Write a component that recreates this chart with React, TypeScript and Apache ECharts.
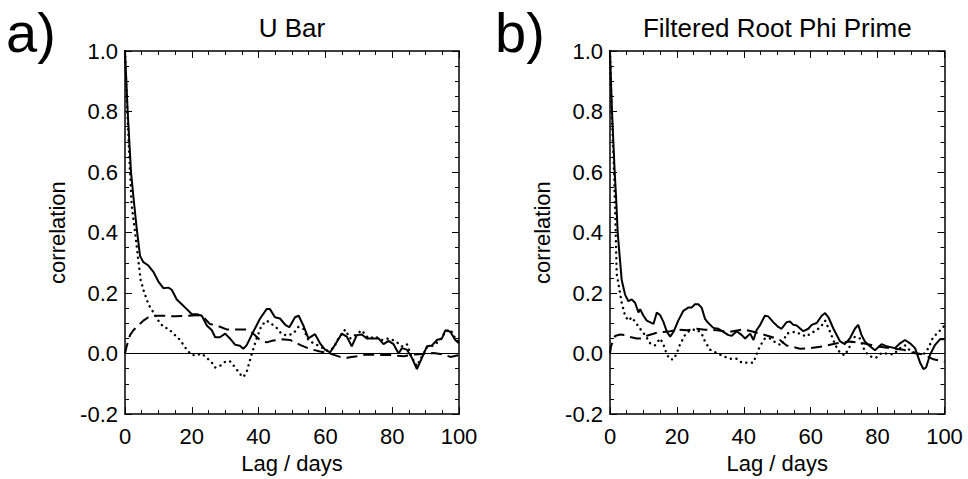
import React, { useEffect, useRef } from "react";
import * as echarts from "echarts";

// Panel a) "U Bar"  — [lag (days), correlation]
const aSolid: [number, number][] = [
  [0, 1.0], [0.8, 0.8], [1.8, 0.6], [2.5, 0.52], [3.5, 0.414], [4.5, 0.323], [5.5, 0.302], [7, 0.291],
  [8.5, 0.27], [10, 0.238], [11.5, 0.216], [13, 0.218], [14, 0.211], [15.5, 0.179], [17, 0.163],
  [18.5, 0.147], [20, 0.13], [21.5, 0.13], [23, 0.125], [24.5, 0.093], [26, 0.077], [27, 0.054],
  [28.4, 0.054], [30, 0.066], [31.4, 0.05], [33, 0.029], [34.4, 0.026], [35.4, 0.016], [36.4, 0.027],
  [38.4, 0.072], [40.4, 0.115], [42.4, 0.147], [43.4, 0.147], [44.9, 0.12], [46.4, 0.116], [48, 0.095],
  [49.2, 0.087], [50.9, 0.12], [52, 0.125], [53.4, 0.093], [54.9, 0.05], [56.9, 0.064], [58.4, 0.034],
  [59.9, 0.013], [61.4, 0.004], [62.9, 0.029], [64.9, 0.066], [66.4, 0.056], [67.9, 0.024], [69.4, 0.061],
  [70.9, 0.063], [72.4, 0.05], [73.9, 0.05], [75.9, 0.05], [77.4, 0.031], [78.9, 0.042], [80.4, 0.031],
  [81.9, 0.0], [82.9, 0.018], [84.4, 0.013], [85.9, -0.014], [87.4, -0.051], [88.9, -0.014], [90.4, 0.024],
  [91.9, 0.027], [93.4, 0.045], [94.9, 0.05], [95.9, 0.077], [97.4, 0.072], [98.9, 0.045], [100, 0.034],
];
const aDash: [number, number][] = [
  [0, 0.0], [0.5, 0.024], [1.5, 0.061], [2.5, 0.077], [4, 0.093], [5.5, 0.109], [7, 0.12], [9, 0.125],
  [12, 0.125], [15, 0.123], [18.5, 0.125], [21.5, 0.127], [23.5, 0.12], [25.4, 0.098], [27.4, 0.093],
  [30.4, 0.08], [34.4, 0.08], [36.4, 0.08], [38.4, 0.066], [40.4, 0.045], [42.4, 0.037], [44.4, 0.043],
  [47, 0.047], [49.4, 0.045], [52.4, 0.029], [55.4, 0.015], [58.4, 0.007], [61.4, 0.0], [64.4, -0.011],
  [66.4, -0.014], [69.4, -0.009], [72.4, -0.003], [76.4, -0.005], [79.4, -0.005], [83.4, -0.009],
  [86.4, -0.003], [89.4, -0.001], [92.4, 0.002], [95.4, -0.003], [97.4, -0.011], [100, -0.005],
];
const aDot: [number, number][] = [
  [0, 1.0], [0.7, 0.8], [1.4, 0.62], [2, 0.49], [3, 0.403], [4, 0.307], [4.7, 0.243], [5.5, 0.211],
  [7, 0.163], [8.5, 0.136], [10, 0.109], [11.5, 0.088], [13, 0.082], [14.5, 0.066], [16.5, 0.045],
  [18.5, 0.013], [20, -0.005], [21.5, -0.005], [23, 0.0], [24.5, -0.014], [26, -0.03], [27, -0.046],
  [28.4, -0.041], [30, -0.027], [31.4, -0.025], [33, -0.046], [34.4, -0.067], [35.4, -0.078],
  [36.4, -0.062], [37.9, -0.003], [39.4, 0.05], [40.9, 0.093], [42.4, 0.109], [43.9, 0.098],
  [45.4, 0.085], [46.9, 0.065], [48.4, 0.06], [50.4, 0.066], [51.9, 0.088], [53.4, 0.082], [54.9, 0.045],
  [56.4, 0.034], [58.4, 0.024], [60.4, 0.01], [62.4, 0.018], [63.9, 0.05], [65.9, 0.079], [67.4, 0.05],
  [68.9, 0.061], [70.9, 0.077], [72.9, 0.05], [74.9, 0.056], [76.9, 0.045], [78.9, 0.05], [80.9, 0.042],
  [82.9, 0.024], [84.4, 0.031], [85.9, -0.014], [87.4, -0.041], [88.9, -0.009], [90.4, 0.02], [92.4, 0.027],
  [94.4, 0.045], [95.9, 0.072], [97.4, 0.08], [98.9, 0.05], [100, 0.037],
];

// Panel b) "Filtered Root Phi Prime"
const bSolid: [number, number][] = [
  [0, 1.0], [0.6, 0.8], [1.4, 0.6], [1.8, 0.521], [2.3, 0.4], [3, 0.307], [3.5, 0.243], [4.5, 0.195],
  [5.5, 0.173], [6.5, 0.179], [7.5, 0.168], [8.5, 0.136], [9, 0.147], [10, 0.125], [11, 0.109], [13, 0.098],
  [14, 0.136], [15, 0.127], [16, 0.104], [17, 0.072], [18, 0.056], [19, 0.072], [20.4, 0.109], [21.9, 0.141],
  [23.4, 0.152], [24.4, 0.152], [25.4, 0.163], [26.4, 0.163], [27.4, 0.152], [28.4, 0.115], [29.4, 0.101],
  [30.9, 0.085], [32.4, 0.082], [33.9, 0.072], [35.4, 0.061], [36.4, 0.059], [37.9, 0.074], [39.4, 0.061],
  [40.4, 0.05], [41.9, 0.066], [42.9, 0.045], [43.8, 0.077], [44.8, 0.093], [46.3, 0.125], [47.3, 0.123],
  [48.8, 0.104], [50.3, 0.088], [51.3, 0.082], [52.8, 0.104], [53.8, 0.106], [54.8, 0.095], [55.8, 0.093],
  [57.8, 0.074], [59.3, 0.082], [60.3, 0.095], [61.8, 0.101], [63.3, 0.125], [64.3, 0.134], [65.3, 0.12],
  [66.8, 0.082], [68.8, 0.04], [70.2, 0.031], [71.7, 0.05], [73.2, 0.082], [74.2, 0.095], [75.2, 0.061],
  [76.2, 0.04], [77.7, 0.024], [79.2, 0.011], [81.2, 0.031], [82.7, 0.024], [85.2, 0.018], [86.7, 0.034],
  [88.2, 0.045], [89.7, 0.034], [91.2, 0.018], [92.7, -0.03], [93.7, -0.051], [94.5, -0.046], [95.7, -0.003],
  [97.2, 0.029], [98.7, 0.048], [100, 0.047],
];
const bDash: [number, number][] = [
  [0, 0.0], [0.3, 0.024], [1.5, 0.058], [3, 0.063], [4.5, 0.061], [6, 0.055], [8, 0.05], [9.5, 0.05],
  [11, 0.059], [14.4, 0.07], [18, 0.074], [20.4, 0.079], [22.9, 0.077], [25.9, 0.082], [28.4, 0.079],
  [31.9, 0.077], [35.9, 0.072], [39.9, 0.08], [42.9, 0.072], [45.8, 0.063], [48.3, 0.055], [50.8, 0.045],
  [52.8, 0.027], [56.8, 0.016], [59.8, 0.018], [63.8, 0.024], [67.8, 0.034], [71.7, 0.04], [75.7, 0.034],
  [79.7, 0.024], [83.7, 0.018], [87.7, 0.013], [90.7, 0.002], [93.7, -0.003], [96.7, -0.019], [100, -0.027],
];
const bDot: [number, number][] = [
  [0, 1.0], [0.5, 0.8], [1.2, 0.6], [1.6, 0.45], [2, 0.264], [3, 0.2], [3.5, 0.168], [4.5, 0.125],
  [5.5, 0.109], [6.5, 0.12], [8, 0.098], [9, 0.082], [10.5, 0.061], [12, 0.034], [13.4, 0.027], [15, 0.05],
  [16, 0.029], [17, -0.003], [18, -0.019], [19, -0.019], [20, 0.002], [20.9, 0.029], [22.4, 0.061],
  [23.9, 0.077], [25.9, 0.08], [27.4, 0.066], [28.4, 0.04], [29.9, 0.013], [31.9, 0.002], [33.9, -0.009],
  [35.9, -0.017], [37.9, -0.017], [39.4, -0.03], [40.9, -0.03], [42.9, -0.03], [43.8, -0.003], [44.8, 0.024],
  [46.3, 0.05], [47.8, 0.05], [49.8, 0.034], [51.3, 0.027], [52.8, 0.066], [55.3, 0.072], [57.3, 0.063],
  [58.8, 0.056], [59.8, 0.066], [61.8, 0.077], [63.3, 0.093], [64.3, 0.109], [65.8, 0.072], [67.3, 0.029],
  [68.8, 0.002], [70.2, -0.006], [71.7, 0.024], [73.2, 0.056], [74.7, 0.05], [76.2, 0.007], [77.7, -0.009],
  [79.5, -0.014], [81.2, 0.002], [83.2, -0.001], [84.7, -0.003], [86.7, 0.018], [88.2, 0.027], [89.7, 0.01],
  [91.7, 0.0], [93.7, -0.003], [95.2, 0.018], [96.5, 0.052], [97.7, 0.066], [99.2, 0.082], [100, 0.093],
];

const panelTitles = ["U Bar", "Filtered Root Phi Prime"];
const panelLetters = ["a)", "b)"];
const xName = "Lag / days";
const yName = "correlation";
const xRange = [0, 100, 20];
const yRange = [-0.2, 1.0, 0.2];

const FONT = "'Liberation Sans', Arial, Helvetica, sans-serif";
const GRIDS = [
  { left: 125, top: 51, width: 334, height: 373.5 },
  { left: 610, top: 51, width: 334.5, height: 373.5 },
];
const LETTER_X = [6, 495];

export default function App() {
  const ref = useRef<HTMLDivElement>(null);
  useEffect(() => {
    if (!ref.current) return;
    const chart = echarts.init(ref.current, null, { renderer: "svg" });
    const lineAx = { show: true, onZero: false, lineStyle: { color: "#000", width: 1.5 } };
    const tick = { show: true, inside: true, length: 7, lineStyle: { color: "#000", width: 1 } };
    const minor = { show: true, splitNumber: 4, length: 4, lineStyle: { color: "#000", width: 1 } };
    const xAxes: any[] = [];
    const yAxes: any[] = [];
    GRIDS.forEach((_, g) => {
      const xBase = {
        type: "value", gridIndex: g, min: xRange[0], max: xRange[1], interval: xRange[2],
        axisLine: lineAx, axisTick: tick, minorTick: minor, splitLine: { show: false },
      };
      xAxes.push({
        ...xBase, position: "bottom",
        name: xName, nameLocation: "middle", nameGap: 35,
        nameTextStyle: { fontFamily: FONT, fontSize: 22, color: "#000" },
        axisLabel: { show: true, margin: 11, fontFamily: FONT, fontSize: 22, color: "#000" },
      });
      xAxes.push({ ...xBase, position: "top", axisLabel: { show: false } });
      const yBase = {
        type: "value", gridIndex: g, min: yRange[0], max: yRange[1], interval: yRange[2],
        axisLine: lineAx, axisTick: tick, minorTick: minor, splitLine: { show: false },
      };
      yAxes.push({
        ...yBase, position: "left",
        name: yName, nameLocation: "middle", nameGap: 57,
        nameTextStyle: { fontFamily: FONT, fontSize: 22, color: "#000" },
        axisLabel: {
          show: true, margin: 7, fontFamily: FONT, fontSize: 22, color: "#000",
          formatter: (v: number) => v.toFixed(1),
        },
      });
      yAxes.push({ ...yBase, position: "right", axisLabel: { show: false } });
    });

    const mk = (data: [number, number][], g: number, kind: string, zero = false) => ({
      type: "line",
      xAxisIndex: g * 2,
      yAxisIndex: g * 2,
      data,
      showSymbol: false,
      symbol: "none",
      silent: true,
      lineStyle:
        kind === "solid"
          ? { color: "#000", width: 2, type: "solid" }
          : kind === "dash"
          ? { color: "#000", width: 2, type: [11, 6] }
          : { color: "#000", width: 2.4, type: [0.1, 5.5], cap: "round" },
      markLine: zero
        ? {
            silent: true, symbol: "none", label: { show: false },
            lineStyle: { color: "#000", width: 1, type: "solid" },
            data: [{ yAxis: 0 }],
          }
        : undefined,
    });

    const graphics: any[] = [];
    GRIDS.forEach((gr, g) => {
      graphics.push({
        type: "text", x: gr.left + gr.width / 2, y: 28,
        style: { text: panelTitles[g], fontFamily: FONT, fontSize: 26, fill: "#000", align: "center", verticalAlign: "middle" },
      });
      graphics.push({
        type: "text", x: LETTER_X[g], y: 32,
        style: { text: panelLetters[g], fontFamily: FONT, fontSize: 56, fill: "#000", align: "left", verticalAlign: "middle" },
      });
    });

    chart.setOption({
      animation: false,
      backgroundColor: "#fff",
      grid: GRIDS.map((g) => ({ ...g, containLabel: false })),
      xAxis: xAxes,
      yAxis: yAxes,
      graphic: graphics,
      series: [
        mk(aSolid, 0, "solid", true),
        mk(aDash, 0, "dash"),
        mk(aDot, 0, "dot"),
        mk(bSolid, 1, "solid", true),
        mk(bDash, 1, "dash"),
        mk(bDot, 1, "dot"),
      ],
    });
    return () => chart.dispose();
  }, []);
  return (
    <div
      ref={ref}
      style={{ position: "fixed", left: 0, top: 0, width: 968, height: 479, background: "#fff" }}
    />
  );
}
